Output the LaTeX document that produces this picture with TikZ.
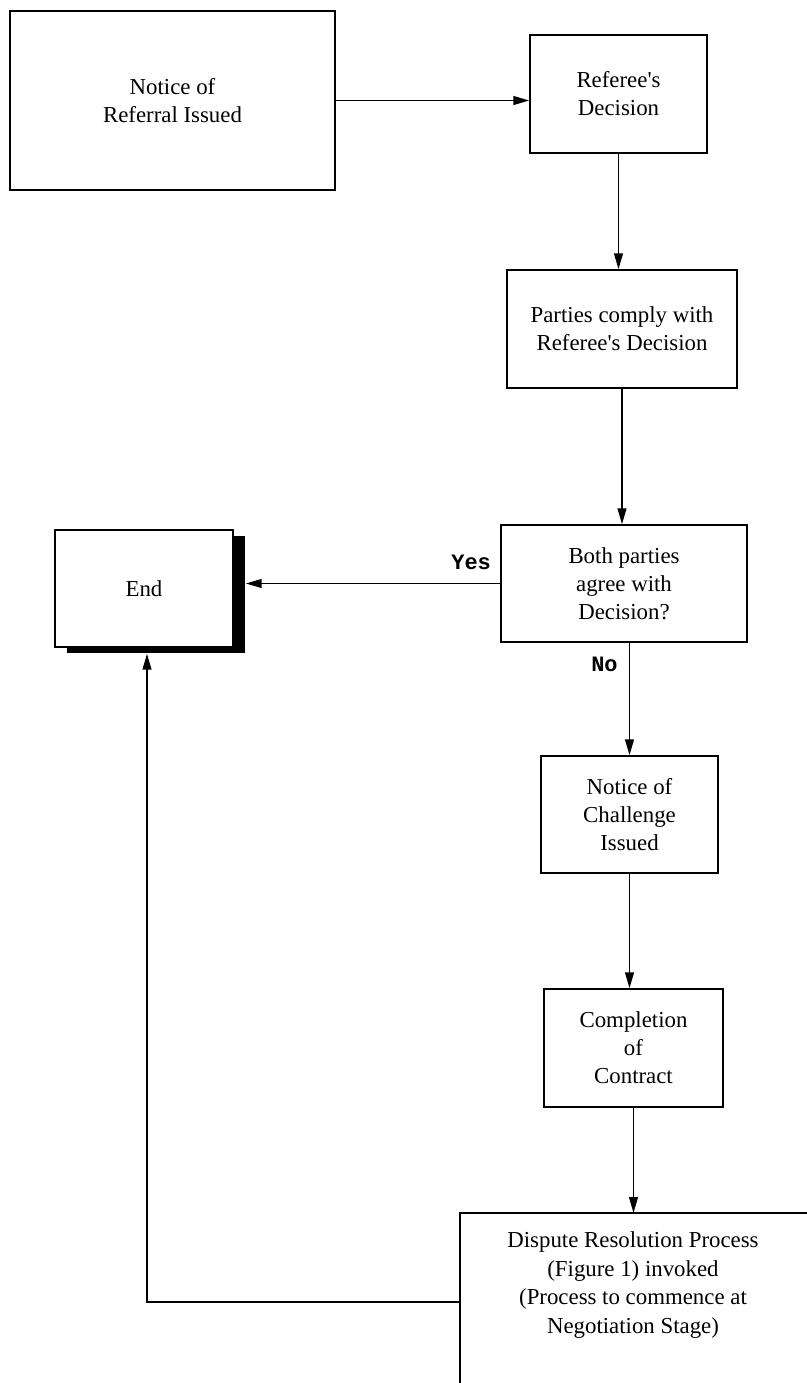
\documentclass[tikz,border=0pt]{standalone}
\usepackage{fontspec}
\setmainfont{Liberation Serif}
\setmonofont{Liberation Mono}
\usetikzlibrary{arrows.meta,positioning,shadows,calc}

\tikzset{
    box/.style={draw, line width=0.9pt, fill=white, align=center,
        font=\fontsize{13}{16}\selectfont, inner sep=2pt},
    arr/.style={line width=0.9pt, -{Triangle[length=9pt,width=5pt]}},
    answer/.style={font=\ttfamily\bfseries\fontsize{12.5}{14}\selectfont, inner sep=0pt},
}

\begin{document}
\begin{tikzpicture}[x=0.02cm, y=-0.02cm]
    \clip (0,0) rectangle (807,1383);

    \node[box, minimum width=6.5cm, minimum height=3.58cm] (referral) at (172.5,100.5) {Notice of\\Referral Issued};
    \node[box, minimum width=3.54cm, minimum height=2.36cm] (decision) at (618.5,94) {Referee\textquotesingle s\\Decision};
    \node[box, minimum width=4.6cm, minimum height=2.36cm] (comply) at (622,329) {Parties comply with\\Referee\textquotesingle s Decision};
    \node[box, minimum width=4.92cm, minimum height=2.34cm] (agree) at (624,583.5) {Both parties\\agree with\\Decision?};
    \node[box, minimum width=3.56cm, minimum height=2.34cm,
        drop shadow={shadow xshift=0.24cm, shadow yshift=-0.12cm, opacity=1, fill=black}] (endbox) at (144,588.5) {End};
    \node[box, minimum width=3.54cm, minimum height=2.34cm] (challenge) at (629.5,814.5) {Notice of\\Challenge\\Issued};
    \node[box, minimum width=3.58cm, minimum height=2.36cm] (complete) at (633.5,1048) {Completion\\of\\Contract};

    % last box runs off the page
    \coordinate (dsp-nw) at (460,1213);
    \coordinate (dsp-w) at (460,1302);
    \draw[line width=0.9pt] (dsp-nw) rectangle (840,1420);
    \node[align=center, font=\fontsize{13}{16.3}\selectfont] (dispute) at (633,1285)
        {Dispute Resolution Process\\(Figure 1) invoked\\(Process to commence at\\Negotiation Stage)};

    \draw[arr] (referral.east) -- (referral.east -| decision.west);
    \draw[arr] (decision.south) -- (decision.south |- comply.north);
    \draw[arr] (comply.south) -- (comply.south |- agree.north);
    \draw[arr] (agree.west) -- ($(agree.west -| endbox.east)+(12,0)$);
    \draw[arr] (challenge.north |- agree.south) -- (challenge.north);
    \draw[arr] (challenge.south) -- (challenge.south |- complete.north);
    \draw[arr] (complete.south) -- (complete.south |- dsp-nw);
    \draw[arr] (dsp-w) -| ($(endbox.south)+(3,6)$);

    \node[answer, above left=0.26cm and 0.18cm of agree.west] (yes) {Yes};
    \node[answer, below left=0.27cm and 0.12cm of agree.south] (no) {No};
\end{tikzpicture}
\end{document}
